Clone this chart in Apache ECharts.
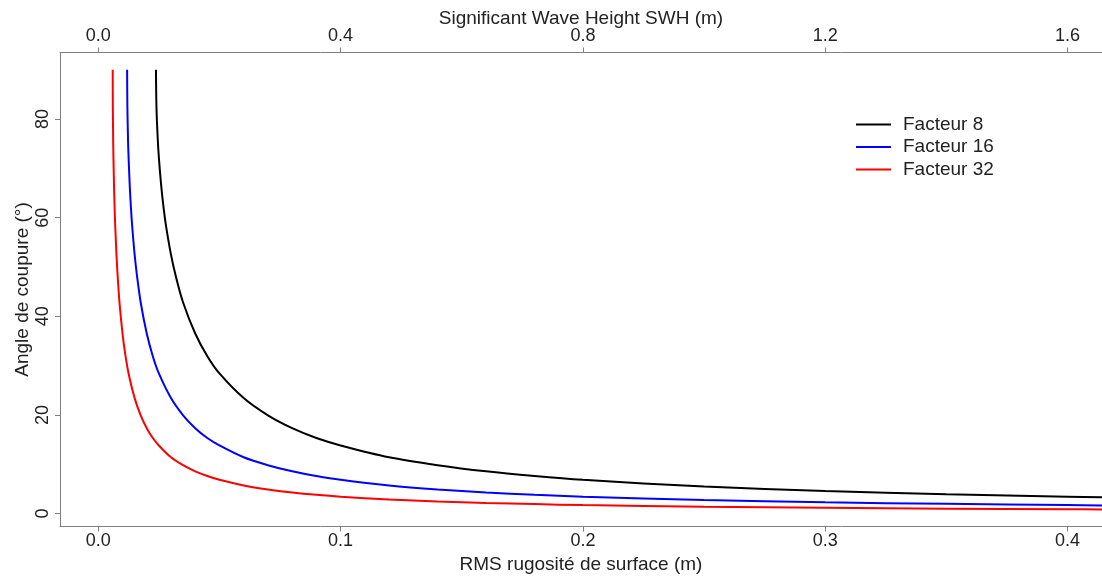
<!DOCTYPE html>
<html>
<head>
<meta charset="utf-8">
<script src="https://cdn.jsdelivr.net/npm/echarts@6/dist/echarts.min.js"></script>
<style>
html,body{margin:0;padding:0;background:#fff;}
#chart{width:1102px;height:579px;}
</style>
</head>
<body>
<div id="chart"></div>
<script>
// RMS roughness (m) and cut-off angle (deg)
const rms8  = [0.0238,0.0240,0.0245,0.025,0.026,0.027,0.028,0.030,0.032,0.035,0.040,0.045,0.050,0.060,0.070,0.080,0.090,0.100,0.120,0.140,0.160,0.180,0.200,0.250,0.300,0.350,0.400,0.415];
const ang8  = [90,82.6,76.3,72.2,66.3,61.8,58.2,52.5,48.1,42.8,36.5,31.9,28.4,23.4,19.9,17.3,15.3,13.8,11.4,9.8,8.55,7.6,6.83,5.46,4.55,3.9,3.41,3.29];
const rms16 = [0.0119,0.0120,0.0123,0.0125,0.013,0.0135,0.014,0.015,0.016,0.0175,0.020,0.0225,0.025,0.030,0.035,0.040,0.045,0.050,0.060,0.070,0.080,0.090,0.100,0.120,0.140,0.160,0.180,0.200,0.250,0.300,0.350,0.400,0.415];
const ang16 = [90,82.6,75.3,72.2,66.3,61.8,58.2,52.5,48.1,42.8,36.5,31.9,28.4,23.4,19.9,17.3,15.3,13.8,11.4,9.8,8.55,7.6,6.83,5.69,4.88,4.27,3.79,3.41,2.73,2.27,1.95,1.70,1.64];
const rms32 = [0.00595,0.0060,0.00615,0.00625,0.0065,0.00675,0.0070,0.0075,0.0080,0.00875,0.010,0.01125,0.0125,0.015,0.0175,0.020,0.0225,0.025,0.030,0.035,0.040,0.045,0.050,0.060,0.070,0.080,0.090,0.100,0.120,0.140,0.160,0.180,0.200,0.250,0.300,0.350,0.400,0.415];
const ang32 = [90,82.6,75.3,72.2,66.3,61.8,58.2,52.5,48.1,42.8,36.5,31.9,28.4,23.4,19.9,17.3,15.3,13.8,11.4,9.8,8.55,7.6,6.83,5.69,4.88,4.27,3.79,3.41,2.84,2.44,2.13,1.90,1.70,1.36,1.14,0.97,0.85,0.82];

const seriesNames = ['Facteur 8','Facteur 16','Facteur 32'];
const bottomTicks = [0,0.1,0.2,0.3,0.4];
const topTicks = [0,0.4,0.8,1.2,1.6];
const yTicks = [0,20,40,60,80];

function pairs(xs, ys){ return xs.map((x,i)=>[x, ys[i]]); }

const FONT = '"Liberation Sans", Arial, sans-serif';
const AX = '#808080';
const TXT = '#222';

const chart = echarts.init(document.getElementById('chart'));
chart.setOption({
  animation: false,
  backgroundColor: '#fff',
  textStyle: { fontFamily: FONT },
  grid: { left: 60, top: 52.5, right: 0, bottom: 52.5, containLabel: false, outerBoundsMode: 'none' },
  legend: {
    orient: 'vertical', left: 851, top: 110,
    itemWidth: 35, itemHeight: 2, itemGap: 3.5,
    icon: 'rect',
    data: seriesNames,
    textStyle: { fontFamily: FONT, fontSize: 19, color: TXT, lineHeight: 19, padding: [0,0,0,7] }
  },
  xAxis: [
    {
      type: 'value', position: 'bottom', min: -0.0158, max: 0.4142,
      name: 'RMS rugosité de surface (m)', nameLocation: 'middle', nameGap: 29, nameMoveOverlap: false,
      nameTextStyle: { fontFamily: FONT, fontSize: 19, color: TXT },
      axisLine: { show: true, onZero: false, lineStyle: { color: AX, width: 1 } },
      axisTick: { show: true, customValues: bottomTicks, length: 5, lineStyle: { color: AX } },
      axisLabel: { customValues: bottomTicks, margin: 6, fontFamily: FONT, fontSize: 18, color: TXT,
                   formatter: v => v.toFixed(1) },
      splitLine: { show: false }
    },
    {
      type: 'value', position: 'top', min: -0.0632, max: 1.6568,
      name: 'Significant Wave Height SWH (m)', nameLocation: 'middle', nameGap: 24, nameMoveOverlap: false,
      nameTextStyle: { fontFamily: FONT, fontSize: 19, color: TXT },
      axisLine: { show: true, onZero: false, lineStyle: { color: AX, width: 1 } },
      axisTick: { show: true, customValues: topTicks, length: 5, lineStyle: { color: AX } },
      axisLabel: { customValues: topTicks, margin: 7, fontFamily: FONT, fontSize: 18, color: TXT,
                   formatter: v => v.toFixed(1) },
      splitLine: { show: false }
    }
  ],
  yAxis: {
    type: 'value', min: -2.64, max: 93.5,
    name: 'Angle de coupure (°)', nameLocation: 'middle', nameGap: 28, nameMoveOverlap: false,
    nameTextStyle: { fontFamily: FONT, fontSize: 19, color: TXT },
    axisLine: { show: true, onZero: false, lineStyle: { color: AX, width: 1 } },
    axisTick: { show: true, customValues: yTicks, length: 5, lineStyle: { color: AX } },
    axisLabel: { customValues: yTicks, rotate: 90, margin: 8, fontFamily: FONT, fontSize: 18, color: TXT },
    splitLine: { show: false }
  },
  series: [
    { name: seriesNames[0], type: 'line', xAxisIndex: 0, data: pairs(rms8, ang8), symbol: 'none', smooth: 0.3,
      lineStyle: { color: '#000000', width: 2 }, itemStyle: { color: '#000000' } },
    { name: seriesNames[1], type: 'line', xAxisIndex: 0, data: pairs(rms16, ang16), symbol: 'none', smooth: 0.3,
      lineStyle: { color: '#0000ff', width: 2 }, itemStyle: { color: '#0000ff' } },
    { name: seriesNames[2], type: 'line', xAxisIndex: 0, data: pairs(rms32, ang32), symbol: 'none', smooth: 0.3,
      lineStyle: { color: '#ff0000', width: 2 }, itemStyle: { color: '#ff0000' } }
  ]
});
</script>
</body>
</html>
